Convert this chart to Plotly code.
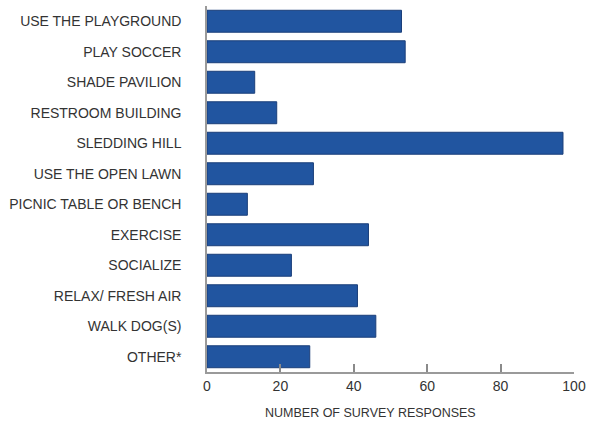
import plotly.graph_objects as go

categories = ["USE THE PLAYGROUND", "PLAY SOCCER", "SHADE PAVILION", "RESTROOM BUILDING",
              "SLEDDING HILL", "USE THE OPEN LAWN", "PICNIC TABLE OR BENCH", "EXERCISE",
              "SOCIALIZE", "RELAX/ FRESH AIR", "WALK DOG(S)", "OTHER*"]
responses = [53, 54, 13, 19, 97, 29, 11, 44, 23, 41, 46, 28]
x_ticks = [0, 20, 40, 60, 80, 100]
x_title = "NUMBER OF SURVEY RESPONSES"

fig = go.Figure()
fig.add_trace(go.Bar(
    y=categories, x=responses, orientation="h",
    marker=dict(color="#2155a0", line=dict(color="#1b3f7a", width=1)),
    width=0.72,
    hoverinfo="x+y",
))

fig.update_layout(
    width=589, height=423,
    margin=dict(l=207, r=15, t=6, b=51),
    paper_bgcolor="white", plot_bgcolor="white",
    showlegend=False,
    font=dict(family="Liberation Sans, Arial, sans-serif", color="#333333"),
)
fig.update_yaxes(
    autorange="reversed", categoryorder="array", categoryarray=categories,
    showline=True, linecolor="#9a9a9a", linewidth=1.5,
    ticks="", showgrid=False, zeroline=False, automargin=False,
    tickfont=dict(size=14, color="#333333"),
    ticklabelstandoff=21,
)
fig.update_xaxes(
    range=[0, 100], tickvals=x_ticks, ticktext=[str(v) for v in x_ticks],
    showline=True, linecolor="#9a9a9a", linewidth=1.5,
    ticks="inside", ticklen=8, tickcolor="#8a8a8a", tickwidth=1.5,
    showgrid=False, zeroline=False, automargin=False,
    tickfont=dict(size=14, color="#333333"),
)
fig.add_annotation(
    text=x_title, xref="paper", yref="paper", x=(370 - 207) / (574 - 207), y=0,
    yshift=-41, showarrow=False, font=dict(size=12.5, color="#333333"),
    xanchor="center", yanchor="middle",
)
fig.write_html("out.html", config={"displayModeBar": False},
               post_script="document.body.style.margin='0px';")
